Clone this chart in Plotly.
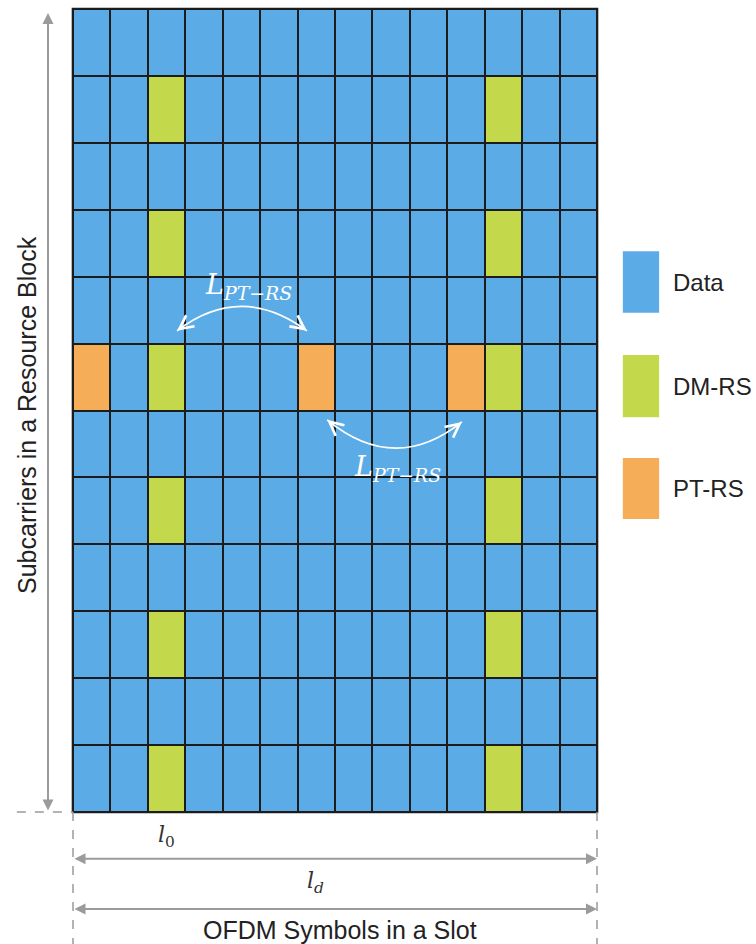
import plotly.graph_objects as go

# ---------------- data ----------------
n_symbols = 14                      # OFDM symbols in a slot (columns)
n_subcarriers = 12                  # subcarriers in a resource block (rows)
dmrs_symbols = [2, 11]              # DM-RS symbol indices
dmrs_subcarriers = [0, 2, 4, 6, 8, 10]   # DM-RS subcarrier indices (from bottom)
ptrs_symbols = [0, 6, 10]           # PT-RS symbol indices
ptrs_subcarriers = [6]              # PT-RS subcarrier index (from bottom)
legend_labels = ["Data", "DM-RS", "PT-RS"]
colors = ["#5BACE6", "#C4D84C", "#F5AE57"]

# ---------------- build grid ----------------
z = []
for sc in range(n_subcarriers):
    row = []
    for sym in range(n_symbols):
        v = 0
        if sym in dmrs_symbols and sc in dmrs_subcarriers:
            v = 1
        if sym in ptrs_symbols and sc in ptrs_subcarriers:
            v = 2
        row.append(v)
    z.append(row)

xs = [i + 0.5 for i in range(n_symbols)]
ys = [j + 0.5 for j in range(n_subcarriers)]

cs = [[0, colors[0]], [1/3, colors[0]], [1/3, colors[1]], [2/3, colors[1]],
      [2/3, colors[2]], [1, colors[2]]]

fig = go.Figure()
fig.add_trace(go.Heatmap(x=xs, y=ys, z=z, zmin=-0.5, zmax=2.5, colorscale=cs,
                         showscale=False, xgap=2, ygap=2, hoverinfo="skip"))

W, H = 756, 944
# pixel -> grid units mapping (grid: x 73..597 px, y 9..812 px)
px_per_x = (597 - 73) / n_symbols
px_per_y = (812 - 9) / n_subcarriers
xr = [-73 / px_per_x, (W - 73) / px_per_x]
yr = [-(H - 812) / px_per_y, n_subcarriers + 9 / px_per_y]

shapes = []
# dark grid background (lines)
ex = 1.3 / px_per_x
ey = 1.3 / px_per_y
shapes.append(dict(type="rect", x0=-ex, x1=n_symbols + ex, y0=-ey, y1=n_subcarriers + ey,
                   fillcolor="#1c1c1c", line=dict(width=0), layer="below"))

gray = "#9b9b9b"
# dashed guide lines
shapes.append(dict(type="line", x0=-1.5, x1=0, y0=0, y1=0,
                   line=dict(color=gray, width=1.5, dash="dash")))
shapes.append(dict(type="line", x0=0, x1=0, y0=0, y1=yr[0],
                   line=dict(color=gray, width=1.5, dash="dash")))
shapes.append(dict(type="line", x0=n_symbols, x1=n_symbols, y0=0, y1=yr[0],
                   line=dict(color=gray, width=1.5, dash="dash")))

# curved white arrows (quadratic bezier)
curves = [
    ((2.78, 7.19), (4.5, 7.92), (6.25, 7.19)),
    ((6.79, 5.86), (8.6, 5.03), (10.39, 5.83)),
]
annotations = []
for p0, c, p2 in curves:
    shapes.append(dict(type="path",
                       path=f"M {p0[0]},{p0[1]} Q {c[0]},{c[1]} {p2[0]},{p2[1]}",
                       line=dict(color="white", width=1.8)))
    for p in (p0, p2):
        dxp = (c[0] - p[0]) * px_per_x
        dyp = -(c[1] - p[1]) * px_per_y
        L = (dxp ** 2 + dyp ** 2) ** 0.5
        annotations.append(dict(x=p[0], y=p[1], xref="x", yref="y", text="",
                                showarrow=True, ax=dxp / L * 9, ay=dyp / L * 9,
                                arrowhead=5, arrowsize=1.5, arrowwidth=1.8,
                                arrowcolor="white", standoff=0))

# legend swatches
leg_y = [(8.38, 7.46), (6.83, 5.90), (5.29, 4.38)]
for (y1, y0), col, lab in zip(leg_y, colors, legend_labels):
    shapes.append(dict(type="rect", x0=14.69, x1=15.66, y0=y0, y1=y1,
                       fillcolor=col, line=dict(width=0)))
    annotations.append(dict(x=15.99, y=(y0 + y1) / 2, xref="x", yref="y", text=lab,
                            showarrow=False, xanchor="left", yanchor="middle",
                            font=dict(family="Liberation Sans", size=24, color="#222")))

# double-headed gray arrows
def dbl_arrow(x0, y0, x1, y1):
    annotations.append(dict(x=x1, y=y1, ax=x0, ay=y0, xref="x", yref="y",
                            axref="x", ayref="y", text="", showarrow=True,
                            arrowhead=2, startarrowhead=2, arrowside="end+start",
                            arrowsize=1.1, startarrowsize=1.1, arrowwidth=2,
                            arrowcolor=gray, standoff=0, startstandoff=0))

dbl_arrow(-0.668, 0.0, -0.668, 11.94)
dbl_arrow(0, -0.70, n_symbols, -0.70)
dbl_arrow(0, -1.45, n_symbols, -1.45)

txt_font = dict(family="Liberation Sans", size=25, color="#222")
math_font_w = dict(family="DejaVu Serif", size=27, color="white")
math_font_k = dict(family="DejaVu Serif", size=22, color="#333")

annotations += [
    dict(x=-1.235, y=5.93, xref="x", yref="y", text="Subcarriers in a Resource Block",
         textangle=-90, showarrow=False, font=txt_font),
    dict(x=7.13, y=-1.76, xref="x", yref="y", text="OFDM Symbols in a Slot",
         showarrow=False, font=txt_font),
    dict(x=2.51, y=-0.36, xref="x", yref="y", text="<i>l</i><sub>0</sub>",
         showarrow=False, font=math_font_k),
    dict(x=6.47, y=-1.06, xref="x", yref="y", text="<i>l</i><sub><i>d</i></sub>",
         showarrow=False, font=math_font_k),
    dict(x=4.68, y=7.85, xref="x", yref="y", text="<i>L</i><sub><i>PT−RS</i></sub>",
         showarrow=False, font=math_font_w),
    dict(x=8.66, y=5.14, xref="x", yref="y", text="<i>L</i><sub><i>PT−RS</i></sub>",
         showarrow=False, font=math_font_w),
]

fig.update_layout(
    width=W, height=H, margin=dict(l=0, r=0, t=0, b=0),
    paper_bgcolor="white", plot_bgcolor="white",
    xaxis=dict(range=xr, visible=False, fixedrange=True),
    yaxis=dict(range=yr, visible=False, fixedrange=True),
    shapes=shapes, annotations=annotations, showlegend=False,
)
fig.write_html("out.html", config={"displayModeBar": False},
               post_script="document.body.style.margin='0';document.body.style.overflow='hidden';")
